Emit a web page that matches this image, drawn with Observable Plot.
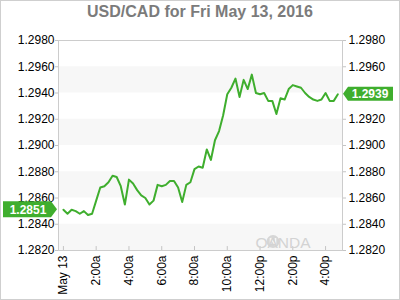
<!DOCTYPE html>
<html>
<head>
<meta charset="utf-8">
<script src="https://cdn.jsdelivr.net/npm/d3@7"></script>
<script src="https://cdn.jsdelivr.net/npm/@observablehq/plot@0.6"></script>
<style>
  html, body { margin: 0; padding: 0; background: #fff; }
  #wrap { position: relative; width: 400px; height: 300px; overflow: hidden; font-family: "Liberation Sans", Arial, sans-serif; }
  #title { height: 32px; box-sizing: border-box; padding-top: 2px; line-height: 20px; text-align: center;
           font-size: 16px; font-weight: bold; color: #7b7b7b; }
  #border { position: absolute; left: 0; top: 0; width: 400px; height: 300px; box-sizing: border-box;
            border: 1px solid #cfcfcf; pointer-events: none; }
  svg { display: block; }
</style>
</head>
<body>
<div id="wrap">
  <div id="title">USD/CAD for Fri May 13, 2016</div>
  <div id="chart"></div>
  <div id="border"></div>
</div>
<script>
// ---- data ----
const times = [
  "00:00","00:15","00:30","00:45","01:00","01:15","01:30","01:45",
  "02:00","02:15","02:30","02:45","03:00","03:15","03:30","03:45",
  "04:00","04:15","04:30","04:45","05:00","05:15","05:30","05:45",
  "06:00","06:15","06:30","06:45","07:00","07:15","07:30","07:45",
  "08:00","08:15","08:30","08:45","09:00","09:15","09:30","09:45",
  "10:00","10:15","10:30","10:45","11:00","11:15","11:30","11:45",
  "12:00","12:15","12:30","12:45","13:00","13:15","13:30","13:45",
  "14:00","14:15","14:30","14:45","15:00","15:15","15:30","15:45",
  "16:00","16:15","16:30","16:45"
];
const values = [
  1.2851,1.2848,1.2851,1.2850,1.2848,1.2850,1.2847,1.2848,
  1.2858,1.2868,1.2869,1.2872,1.2877,1.2876,1.2869,1.2855,
  1.2874,1.2871,1.2866,1.2862,1.2860,1.2855,1.2858,1.2870,
  1.2869,1.2870,1.2873,1.2873,1.2868,1.2857,1.2870,1.2872,
  1.2882,1.2884,1.2883,1.2897,1.2889,1.2904,1.2911,1.2923,
  1.2939,1.2944,1.2951,1.2937,1.2950,1.2943,1.2954,1.2940,
  1.2939,1.2940,1.2934,1.2934,1.2924,1.2936,1.2935,1.2943,
  1.2946,1.2945,1.2944,1.2940,1.2937,1.2935,1.2934,1.2935,
  1.2940,1.2934,1.2934,1.2939
];
const yTicksLeft  = [1.2820,1.2840,1.2860,1.2880,1.2900,1.2920,1.2940,1.2960,1.2980];
const yTicksRight = [1.2820,1.2840,1.2860,1.2880,1.2900,1.2920,1.2960,1.2980];
const bandLow  = [1.2820,1.2860,1.2900,1.2940];
const bandHigh = [1.2840,1.2880,1.2920,1.2960];
const xTickTimes  = ["00:00","02:00","04:00","06:00","08:00","10:00","12:00","14:00","16:00"];
const xTickLabels = ["May 13","2:00a","4:00a","6:00a","8:00a","10:00a","12:00p","2:00p","4:00p"];
const openValue = 1.2851;
const lastValue = 1.2939;
const xStart = "2016-05-12T23:42Z", xEnd = "2016-05-13T17:02Z";

// ---- build ----
const toDate = t => new Date(`2016-05-13T${t}Z`);
const data = times.map((t, i) => ({date: toDate(t), value: values[i]}));
const bands = bandLow.map((lo, i) => ({lo, hi: bandHigh[i]}));
const xTicks = xTickTimes.map(toDate);
const green = "#3fae2e";
const fmt = d => d.toFixed(4);

const plot = Plot.plot({
  width: 400, height: 268,
  marginTop: 8, marginBottom: 50, marginLeft: 58, marginRight: 58,
  style: {fontFamily: "'Liberation Sans', Arial, sans-serif", fontSize: "12px", color: "#000", background: "transparent"},
  x: {type: "utc", domain: [new Date(xStart), new Date(xEnd)]},
  y: {domain: [1.282, 1.298]},
  marks: [
    Plot.rect(bands, {y1: "lo", y2: "hi", fill: "#f7f7f7"}),
    Plot.frame({stroke: "#cccccc"}),
    Plot.ruleX(xTicks, {x: d => d, y1: 1.282, y2: 1.2823, stroke: "#c4c4c4"}),
    Plot.axisY({anchor: "left", ticks: yTicksLeft, tickFormat: fmt, tickSize: 3, tickPadding: 1, stroke: "#c4c4c4", fill: "#000", label: null}),
    Plot.axisY({anchor: "right", ticks: yTicksRight, tickFormat: fmt, tickSize: 3, tickPadding: 3, stroke: "#c4c4c4", fill: "#000", label: null}),
    Plot.axisX({anchor: "bottom", ticks: xTicks,
      tickFormat: d => xTickLabels[xTicks.findIndex(t => +t === +d)],
      tickRotate: -90, tickSize: 0, tickPadding: 5, fill: "#000", label: null}),
    Plot.line(data, {x: "date", y: "value", stroke: green, strokeWidth: 2})
  ]
});
document.getElementById("chart").appendChild(plot);

// ---- value badges & watermark, positioned with the plot's scales ----
const sy = plot.scale("y");
const svg = d3.select(plot);
const y0 = sy.apply(openValue), y1 = sy.apply(lastValue);

svg.append("path")
  .attr("d", `M3,${y0 - 8}H51L57,${y0}L51,${y0 + 8}H3Z`)
  .attr("fill", green);
svg.append("text").attr("x", 28).attr("y", y0).attr("dy", "0.36em")
  .attr("text-anchor", "middle").attr("fill", "#fff")
  .attr("font-weight", "bold").attr("font-size", 12).text(fmt(openValue));

svg.append("path")
  .attr("d", `M343,${y1}L348,${y1 - 7}H393V${y1 + 7}H348Z`)
  .attr("fill", green);
svg.append("text").attr("x", 370).attr("y", y1).attr("dy", "0.36em")
  .attr("text-anchor", "middle").attr("fill", "#fff")
  .attr("font-weight", "bold").attr("font-size", 12).text(fmt(lastValue));

// OANDA watermark
const wm = svg.append("g");
wm.append("circle").attr("cx", 273).attr("cy", 209.5).attr("r", 6.5).attr("fill", "#d6d6d6");
wm.append("path").attr("d", "M270.5,206V213M275.5,206V213M270.5,206L275.5,213")
  .attr("fill", "none").attr("stroke", "#f7f7f7").attr("stroke-width", 1.6);
wm.append("text").attr("x", 283).attr("y", 216).attr("fill", "#d3d3d3")
  .attr("font-size", 15.5).attr("font-family", "'Liberation Sans', Arial, sans-serif")
  .text("OANDA");
</script>
</body>
</html>
